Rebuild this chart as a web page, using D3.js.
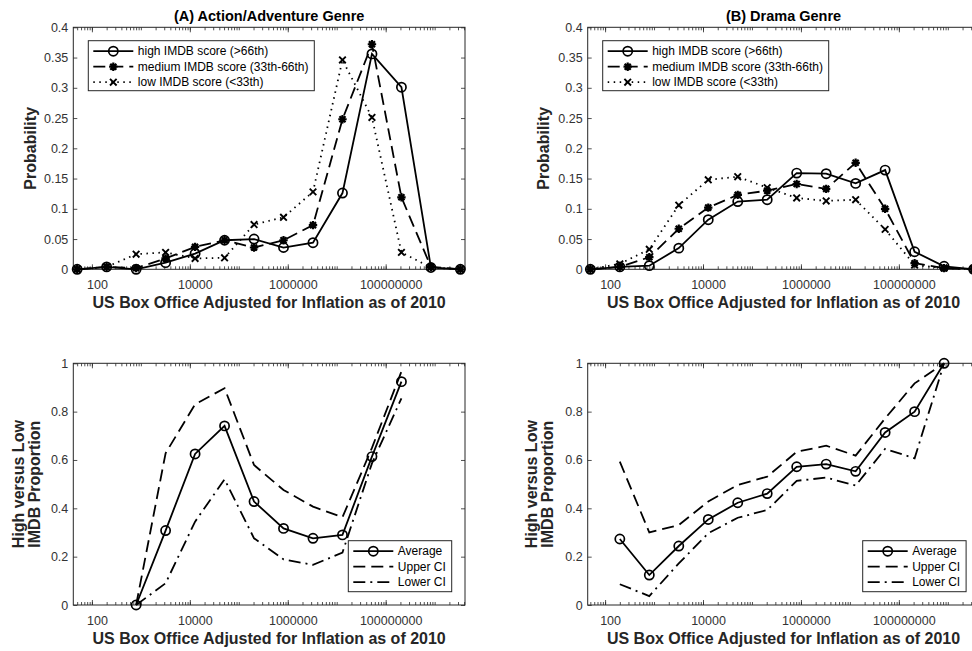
<!DOCTYPE html>
<html>
<head>
<meta charset="utf-8">
<script src="https://cdn.jsdelivr.net/npm/d3@7"></script>
<style>
  body { margin: 0; background: #fff; }
  text { font-family: "Liberation Sans", Arial, Helvetica, sans-serif; }
</style>
</head>
<body>
<svg id="chart" width="972" height="651"></svg>
<script>
// bin centres of box office (log spaced)
const boxOffice = [50, 200, 800, 3200, 12800, 51200, 204800, 819200, 3276800, 13107200, 52428800, 209715200, 838860800, 3355443200];
const xTickValues = [100, 10000, 1000000, 100000000];
const xTickLabels = ["100", "10000", "1000000", "100000000"];

const probTicks = [0, 0.05, 0.1, 0.15, 0.2, 0.25, 0.3, 0.35, 0.4];
const propTicks = [0, 0.2, 0.4, 0.6, 0.8, 1];

// (A) action / adventure
const actionHigh = [0, 0.004, 0, 0.011, 0.026, 0.048, 0.050, 0.036, 0.044, 0.126, 0.356, 0.301, 0.003, 0];
const actionMed  = [0, 0.004, 0.002, 0.018, 0.037, 0.048, 0.036, 0.048, 0.073, 0.248, 0.372, 0.119, 0.004, 0];
const actionLow  = [0, 0.004, 0.025, 0.028, 0.018, 0.019, 0.074, 0.086, 0.128, 0.346, 0.251, 0.028, 0.003, 0];

// (B) drama
const dramaHigh = [0, 0.004, 0.006, 0.035, 0.082, 0.112, 0.115, 0.159, 0.158, 0.142, 0.164, 0.029, 0.005, 0];
const dramaMed  = [0, 0.004, 0.020, 0.067, 0.102, 0.123, 0.130, 0.141, 0.133, 0.176, 0.100, 0.010, 0.002, 0];
const dramaLow  = [0, 0.009, 0.033, 0.106, 0.148, 0.153, 0.135, 0.118, 0.113, 0.115, 0.066, 0.007, 0.002, 0];

// high vs low proportions (null = no value)
const actionAvg   = [null, null, 0, 0.308, 0.625, 0.741, 0.428, 0.317, 0.276, 0.290, 0.614, 0.924, null, null];
const actionUpper = [null, null, 0, 0.628, 0.830, 0.897, 0.579, 0.476, 0.407, 0.363, 0.650, 0.966, null, null];
const actionLower = [null, null, 0, 0.090, 0.345, 0.520, 0.276, 0.189, 0.166, 0.217, 0.586, 0.855, null, null];

const dramaAvg   = [null, 0.273, 0.124, 0.244, 0.354, 0.423, 0.461, 0.572, 0.583, 0.553, 0.714, 0.800, 1.0, null];
const dramaUpper = [null, 0.593, 0.300, 0.331, 0.428, 0.497, 0.531, 0.634, 0.659, 0.618, 0.772, 0.917, 1.0, null];
const dramaLower = [null, 0.086, 0.037, 0.172, 0.297, 0.361, 0.393, 0.514, 0.527, 0.494, 0.646, 0.607, 1.0, null];

const probLegend = ["high IMDB score (>66th)", "medium IMDB score (33th-66th)", "low IMDB score (<33th)"];
const propLegend = ["Average", "Upper CI", "Lower CI"];

const svg = d3.select("#chart");
const axisColor = "#262626";
const xlabel = "US Box Office Adjusted for Inflation as of 2010";

// minor ticks 2..9 x 10^n
const minorTicks = [];
for (let e = 1; e <= 9; e++) for (let m = 1; m <= 9; m++) minorTicks.push(m * Math.pow(10, e));

const styles = {
  solid: null,
  dash: "12,6",
  dot: "1.5,4.5",
  dashdot: "12,5,2,5"
};

function marker(g, kind, cx, cy) {
  if (kind === "circle") {
    g.append("circle").attr("cx", cx).attr("cy", cy).attr("r", 4.6)
      .attr("fill", "none").attr("stroke", "#000").attr("stroke-width", 1.7);
  } else if (kind === "star") {
    const r = 4.2, d = r * 0.72;
    g.append("path")
      .attr("d", `M${cx - r},${cy}L${cx + r},${cy}M${cx},${cy - r}L${cx},${cy + r}` +
                 `M${cx - d},${cy - d}L${cx + d},${cy + d}M${cx - d},${cy + d}L${cx + d},${cy - d}`)
      .attr("stroke", "#000").attr("stroke-width", 2.2).attr("fill", "none");
    g.append("circle").attr("cx", cx).attr("cy", cy).attr("r", 2.4).attr("fill", "#000");
  } else if (kind === "x") {
    const d = 3.3;
    g.append("path")
      .attr("d", `M${cx - d},${cy - d}L${cx + d},${cy + d}M${cx - d},${cy + d}L${cx + d},${cy - d}`)
      .attr("stroke", "#000").attr("stroke-width", 1.9).attr("fill", "none");
  }
}

function panel(opt) {
  const { left, top, width, height, logStart, yMax, yTicks, yFmt, series, title, ylabel, ylabelX, legend, legendPos } = opt;
  const x = d3.scaleLog().domain([Math.pow(10, logStart), Math.pow(10, logStart + 8)]).range([left, left + width]);
  const y = d3.scaleLinear().domain([0, yMax]).range([top + height, top]);
  const g = svg.append("g");
  const inside = minorTicks.filter(v => x(v) >= left && x(v) <= left + width);

  // axes
  const bottom = g.append("g").attr("transform", `translate(0,${top + height})`)
    .call(d3.axisBottom(x).tickValues(xTickValues).tickFormat((d, i) => xTickLabels[i]).tickSize(-5).tickPadding(11));
  bottom.selectAll("text").attr("dx", 5);
  g.append("g").attr("transform", `translate(0,${top + height})`)
    .call(d3.axisBottom(x).tickValues(inside).tickFormat("").tickSize(-3));
  g.append("g").attr("transform", `translate(0,${top})`)
    .call(d3.axisTop(x).tickValues(xTickValues).tickFormat("").tickSize(-5));
  g.append("g").attr("transform", `translate(0,${top})`)
    .call(d3.axisTop(x).tickValues(inside).tickFormat("").tickSize(-3));
  g.append("g").attr("transform", `translate(${left},0)`)
    .call(d3.axisLeft(y).tickValues(yTicks).tickFormat(yFmt).tickSize(-4).tickPadding(5));
  g.append("g").attr("transform", `translate(${left + width},0)`)
    .call(d3.axisRight(y).tickValues(yTicks).tickFormat("").tickSize(-4));
  g.selectAll(".domain").remove();
  g.selectAll(".tick line").attr("stroke", axisColor).attr("stroke-width", 0.8);
  g.selectAll(".tick text").attr("fill", "#333").style("font-size", "12.5px")
    .style("font-family", '"Liberation Sans", Arial, sans-serif');
  g.append("rect").attr("x", left).attr("y", top).attr("width", width).attr("height", height)
    .attr("fill", "none").attr("stroke", axisColor).attr("stroke-width", 1);

  // series
  series.forEach(s => {
    const line = d3.line().defined(d => d[1] !== null).x(d => x(d[0])).y(d => y(d[1]));
    const pts = boxOffice.map((v, i) => [v, s.values[i]]);
    g.append("path").datum(pts).attr("d", line).attr("fill", "none")
      .attr("stroke", "#000").attr("stroke-width", 1.8)
      .attr("stroke-dasharray", styles[s.dash]);
    if (s.marker) pts.filter(p => p[1] !== null).forEach(p => marker(g, s.marker, x(p[0]), y(p[1])));
  });

  // labels
  if (title) g.append("text").attr("x", left + width / 2).attr("y", 21).attr("text-anchor", "middle")
    .style("font-size", "14.5px").style("font-weight", "bold").attr("fill", "#000").text(title);
  g.append("text").attr("x", left + width / 2).attr("y", top + height + 39).attr("text-anchor", "middle")
    .style("font-size", "16px").style("font-weight", "bold").attr("fill", axisColor).text(xlabel);
  ylabel.forEach((t, i) => {
    g.append("text").attr("transform", `translate(${ylabelX + i * 16},${top + height / 2}) rotate(-90)`)
      .attr("text-anchor", "middle").style("font-size", "16px").style("font-weight", "bold")
      .attr("fill", axisColor).text(t);
  });

  // legend
  const lg = g.append("g");
  const lx = legendPos.right ? left + width - legendPos.dx - legendPos.w : left + legendPos.dx;
  const ly = legendPos.bottom ? top + height - legendPos.dy - legendPos.h : top + legendPos.dy;
  lg.append("rect").attr("x", lx).attr("y", ly).attr("width", legendPos.w).attr("height", legendPos.h)
    .attr("fill", "#fff").attr("stroke", axisColor).attr("stroke-width", 1);
  legend.forEach((t, i) => {
    const s = series[i];
    const yy = ly + 10.5 + i * 15.5;
    lg.append("line").attr("x1", lx + 5).attr("x2", lx + 45).attr("y1", yy).attr("y2", yy)
      .attr("stroke", "#000").attr("stroke-width", 1.8).attr("stroke-dasharray", styles[s.dash]);
    if (s.marker) marker(lg, s.marker, lx + 25, yy);
    lg.append("text").attr("x", lx + 49.5).attr("y", yy + 4.2).style("font-size", "12px")
      .attr("fill", "#000").text(t);
  });
}

const topLegend = { dx: 15, dy: 13.4, w: 226, h: 50 };
const botLegend = { right: true, bottom: true, dx: 13.3, dy: 13.3, w: 103.4, h: 51 };

panel({
  left: 73.3, top: 27.3, width: 391.7, height: 242, logStart: 1.62, yMax: 0.4, yTicks: probTicks,
  yFmt: d => d3.format("")(+d.toFixed(2)),
  series: [
    { values: actionHigh, dash: "solid", marker: "circle" },
    { values: actionMed, dash: "dash", marker: "star" },
    { values: actionLow, dash: "dot", marker: "x" }
  ],
  title: "(A) Action/Adventure Genre", ylabel: ["Probability"], ylabelX: 36,
  legend: probLegend, legendPos: topLegend
});

panel({
  left: 587.7, top: 27.3, width: 391.7, height: 242, logStart: 1.645, yMax: 0.4, yTicks: probTicks,
  yFmt: d => d3.format("")(+d.toFixed(2)),
  series: [
    { values: dramaHigh, dash: "solid", marker: "circle" },
    { values: dramaMed, dash: "dash", marker: "star" },
    { values: dramaLow, dash: "dot", marker: "x" }
  ],
  title: "(B) Drama Genre", ylabel: ["Probability"], ylabelX: 548.5,
  legend: probLegend, legendPos: topLegend
});

panel({
  left: 73.3, top: 363.3, width: 391.7, height: 241.7, logStart: 1.62, yMax: 1, yTicks: propTicks,
  yFmt: d => d3.format("")(+d.toFixed(1)),
  series: [
    { values: actionAvg, dash: "solid", marker: "circle" },
    { values: actionUpper, dash: "dash", marker: null },
    { values: actionLower, dash: "dashdot", marker: null }
  ],
  title: null, ylabel: ["High versus Low", "IMDB Proportion"], ylabelX: 23.5,
  legend: propLegend, legendPos: botLegend
});

panel({
  left: 587.7, top: 363.3, width: 391.7, height: 241.7, logStart: 1.645, yMax: 1, yTicks: propTicks,
  yFmt: d => d3.format("")(+d.toFixed(1)),
  series: [
    { values: dramaAvg, dash: "solid", marker: "circle" },
    { values: dramaUpper, dash: "dash", marker: null },
    { values: dramaLower, dash: "dashdot", marker: null }
  ],
  title: null, ylabel: ["High versus Low", "IMDB Proportion"], ylabelX: 536.5,
  legend: propLegend, legendPos: botLegend
});
</script>
</body>
</html>
